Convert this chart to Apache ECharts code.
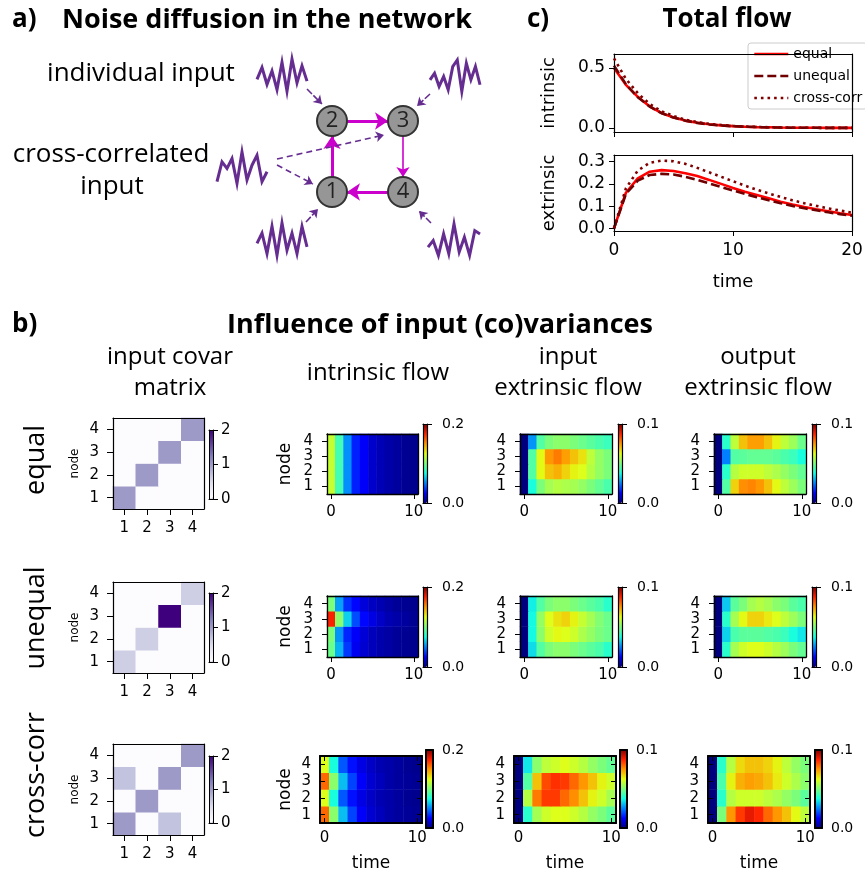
<!DOCTYPE html>
<html><head><meta charset="utf-8">
<script src="https://cdn.jsdelivr.net/npm/echarts@6/dist/echarts.min.js"></script>
<style>html,body{margin:0;padding:0;background:#fff}#c{width:865px;height:876px}</style>
</head><body><div id="c"></div>
<script>
// ================= DATA =================
const timeSteps = ['0','1','2','3','4','5','6','7','8','9','10'];
const nodeLabels = ['1','2','3','4'];
const lineTime = [0,1,2,3,4,5,6,7,8,9,10,11,12,13,14,15,16,17,18,19,20];

// panel c: total flow
const intrEqual   = [0.50,0.36,0.26,0.18,0.125,0.088,0.062,0.044,0.031,0.022,0.016,0.011,0.008,0.006,0.004,0.003,0.002,0.002,0.001,0.001,0.001];
const intrUnequal = [0.52,0.365,0.257,0.179,0.124,0.087,0.061,0.043,0.030,0.021,0.015,0.011,0.008,0.005,0.004,0.003,0.002,0.002,0.001,0.001,0.001];
const intrCross   = [0.58,0.41,0.29,0.20,0.14,0.10,0.07,0.049,0.035,0.025,0.018,0.013,0.009,0.007,0.005,0.003,0.002,0.002,0.001,0.001,0.001];
const extrEqual   = [0,0.16,0.225,0.255,0.262,0.258,0.248,0.235,0.218,0.200,0.182,0.165,0.150,0.135,0.120,0.107,0.096,0.086,0.077,0.068,0.060];
const extrUnequal = [0,0.155,0.215,0.240,0.245,0.242,0.232,0.218,0.202,0.186,0.170,0.155,0.140,0.126,0.113,0.101,0.090,0.081,0.072,0.064,0.057];
const extrCross   = [0,0.18,0.26,0.295,0.305,0.302,0.290,0.272,0.252,0.232,0.212,0.192,0.174,0.157,0.141,0.126,0.113,0.101,0.090,0.080,0.070];

// input covariance matrices [row = node on y][col = node on x]
const covEqual   = [[1,0,0,0],[0,1,0,0],[0,0,1,0],[0,0,0,1]];
const covUnequal = [[0.6,0,0,0],[0,0.6,0,0],[0,0,2,0],[0,0,0,0.6]];
const covCross   = [[1,0,0.7,0],[0,1,0,0],[0.7,0,1,0],[0,0,0,1]];

// flows: [node1..node4][time 0..10]
const eqIntr = [
 [0.118,0.086,0.053,0.031,0.024,0.015,0.011,0.008,0.006,0.004,0.003],
 [0.118,0.086,0.053,0.031,0.024,0.015,0.011,0.008,0.006,0.004,0.003],
 [0.118,0.086,0.053,0.031,0.024,0.015,0.011,0.008,0.006,0.004,0.003],
 [0.118,0.086,0.053,0.031,0.024,0.015,0.011,0.008,0.006,0.004,0.003]];
const eqInExt = [
 [0,0.038,0.050,0.055,0.057,0.056,0.055,0.053,0.050,0.047,0.044],
 [0,0.045,0.063,0.070,0.072,0.068,0.064,0.062,0.057,0.053,0.050],
 [0,0.045,0.063,0.075,0.078,0.074,0.070,0.066,0.058,0.053,0.050],
 [0,0.027,0.045,0.050,0.052,0.052,0.050,0.048,0.046,0.044,0.042]];
const eqOutExt = [
 [0,0.045,0.068,0.076,0.077,0.075,0.070,0.063,0.058,0.054,0.050],
 [0,0.040,0.057,0.060,0.060,0.060,0.058,0.056,0.053,0.050,0.047],
 [0,0.025,0.045,0.046,0.047,0.047,0.047,0.046,0.044,0.042,0.038],
 [0,0.040,0.058,0.070,0.074,0.074,0.070,0.064,0.058,0.054,0.048]];
const uneqIntr = [
 [0.096,0.060,0.036,0.022,0.016,0.012,0.009,0.007,0.005,0.004,0.003],
 [0.100,0.054,0.032,0.024,0.017,0.012,0.009,0.007,0.005,0.004,0.003],
 [0.176,0.104,0.066,0.040,0.026,0.020,0.014,0.010,0.008,0.006,0.004],
 [0.100,0.056,0.034,0.026,0.018,0.013,0.010,0.007,0.005,0.004,0.003]];
const uneqInExt = [
 [0,0.034,0.045,0.050,0.052,0.052,0.050,0.048,0.046,0.044,0.040],
 [0,0.037,0.052,0.060,0.063,0.062,0.060,0.056,0.053,0.050,0.048],
 [0,0.037,0.053,0.062,0.066,0.068,0.064,0.059,0.055,0.051,0.048],
 [0,0.036,0.045,0.050,0.052,0.052,0.050,0.048,0.046,0.044,0.040]];
const uneqOutExt = [
 [0,0.040,0.055,0.060,0.062,0.062,0.060,0.057,0.054,0.050,0.047],
 [0,0.033,0.044,0.046,0.046,0.046,0.045,0.044,0.042,0.038,0.035],
 [0,0.040,0.055,0.063,0.068,0.068,0.065,0.062,0.058,0.054,0.050],
 [0,0.032,0.046,0.050,0.055,0.057,0.055,0.052,0.050,0.046,0.044]];
const ccIntr = [
 [0.160,0.104,0.062,0.038,0.024,0.016,0.012,0.008,0.006,0.005,0.004],
 [0.124,0.076,0.042,0.028,0.020,0.014,0.010,0.008,0.006,0.004,0.003],
 [0.160,0.104,0.062,0.038,0.024,0.016,0.012,0.008,0.006,0.005,0.004],
 [0.124,0.076,0.042,0.028,0.020,0.014,0.010,0.008,0.006,0.004,0.003]];
const ccInExt = [
 [0,0.040,0.055,0.060,0.062,0.062,0.060,0.057,0.053,0.050,0.046],
 [0,0.057,0.078,0.085,0.085,0.080,0.076,0.070,0.064,0.060,0.055],
 [0,0.045,0.070,0.083,0.086,0.085,0.080,0.075,0.070,0.064,0.060],
 [0,0.035,0.052,0.058,0.060,0.062,0.060,0.057,0.053,0.050,0.047]];
const ccOutExt = [
 [0,0.050,0.075,0.085,0.090,0.087,0.080,0.075,0.070,0.063,0.058],
 [0,0.040,0.057,0.060,0.060,0.060,0.058,0.056,0.053,0.050,0.046],
 [0,0.044,0.064,0.072,0.074,0.073,0.070,0.065,0.060,0.056,0.052],
 [0,0.040,0.057,0.067,0.070,0.070,0.068,0.064,0.058,0.053,0.050]];

const rowNames = ['equal','unequal','cross-corr'];
const seriesNames = ['equal','unequal','cross-corr'];
const intrMax = 0.2, extMax = 0.1, covMax = 2;

// network diagram (illustration)
const netNodes = [
 {name:'1', pos:[332,192]}, {name:'2', pos:[332,121]},
 {name:'3', pos:[403,121]}, {name:'4', pos:[403,192]}];
const netEdges = [['2','3',3,13],['3','4',1.6,10],['4','1',3,13],['1','2',3,13]];
const inputArrows = [
 [[307,89],[322,104],'solid'],[[430,94],[417,106],'solid'],
 [[306,222],[318,209],'solid'],[[431,223],[419,211],'solid'],
 [[277,159],[384,135],'dashed'],[[277,165],[313,184],'dashed']];
const noiseShapes = [
 {box:[257,59,50,34], v:[0.6,0.25,0.75,0.35,0.9,0.1,0.95,0.0,0.7,0.2,0.65]},
 {box:[430,60,50,33], v:[0.6,0.4,0.8,0.5,0.9,0.2,0.0,0.95,0.1,0.6,0.2,0.75]},
 {box:[217,152,50,33], v:[0.9,0.3,0.5,0.2,0.95,0.0,0.85,0.4,0.1,0.9,0.6]},
 {box:[257,223,50,34], v:[0.6,0.3,0.9,0.1,0.95,0.0,0.8,0.3,0.9,0.1,0.7]},
 {box:[428,224,52,33], v:[0.7,0.5,0.95,0.3,0.9,0.0,0.85,0.4,0.95,0.2,0.3]}];

// ================= BUILD =================
const JET = ['#00007f','#0000ff','#0080ff','#15ffe2','#7bff7b','#e2ff15','#ff9700','#ff2100','#800000'];
const PURPLES = ['#fcfbfd','#efedf5','#dadaeb','#bcbddc','#9e9ac8','#807dba','#6a51a3','#54278f','#3f007d'];
const FONT = 'DejaVu Sans';
const grids=[], xAxes=[], yAxes=[], series=[], visualMaps=[];

function addGrid(r){ grids.push({left:r[0],top:r[1],width:r[2],height:r[3],containLabel:false,outerBoundsMode:'none'}); return grids.length-1; }
function cells(mat){ const out=[]; mat.forEach((row,yi)=>row.forEach((v,xi)=>out.push([xi,yi,v]))); return out; }
const lineBlack = w => ({show:true,onZero:false,lineStyle:{color:'#000',width:w}});

const g0 = addGrid([0,0,865,876]);
xAxes.push({gridIndex:g0,type:'value',min:0,max:865,show:false});
yAxes.push({gridIndex:g0,type:'value',min:0,max:876,inverse:true,show:false});

noiseShapes.forEach(s=>{
  const [x0,y0,w,h]=s.box, n=s.v.length;
  series.push({type:'line',xAxisIndex:0,yAxisIndex:0,symbol:'none',silent:true,
    lineStyle:{color:'#662d91',width:3,join:'miter'},
    data:s.v.map((v,i)=>[x0+i*w/(n-1), y0+v*h])});
});
const gNodes = netNodes.map(n=>({name:n.name,value:n.pos,symbolSize:30,
   itemStyle:{color:'#969696',borderColor:'#333',borderWidth:2},
   label:{show:true,position:'inside',formatter:'{b}',fontSize:22,color:'#222',fontFamily:'"Open Sans"'}}));
const gLinks = netEdges.map(e=>({source:e[0],target:e[1],symbol:['none','arrow'],symbolSize:[1,e[3]],
   lineStyle:{color:'#cc00cc',width:e[2],opacity:1,curveness:0}}));
inputArrows.forEach((a,i)=>{
  gNodes.push({name:'s'+i,value:a[0],symbolSize:0.1,itemStyle:{opacity:0},label:{show:false}});
  gNodes.push({name:'e'+i,value:a[1],symbolSize:0.1,itemStyle:{opacity:0},label:{show:false}});
  gLinks.push({source:'s'+i,target:'e'+i,symbol:['none','arrow'],symbolSize:[1,8],
    lineStyle:{color:'#662d91',width:1.6,opacity:1,type:a[2]==='dashed'?[6,4]:[7,2]}});
});
series.push({type:'graph',coordinateSystem:'cartesian2d',xAxisIndex:0,yAxisIndex:0,layout:'none',
  silent:true,data:gNodes,links:gLinks,z:3});

function lineGrid(rect, ymin, ymax, yTicks, yName, showX){
  const gi=addGrid(rect);
  const xi=xAxes.length;
  xAxes.push({gridIndex:gi,type:'value',min:0,max:20,interval:10,position:'bottom',z:5,
    axisLine:lineBlack(1.2),axisTick:{show:true,length:5,lineStyle:{color:'#000'}},
    axisLabel:{show:showX,fontSize:17,color:'#000',fontFamily:FONT,margin:11},splitLine:{show:false},
    name:showX?'time':'',nameLocation:'middle',nameGap:42,nameTextStyle:{fontSize:18,fontFamily:FONT,color:'#000'}});
  xAxes.push({gridIndex:gi,type:'value',min:0,max:20,position:'top',z:5,axisLine:lineBlack(1.2),
    axisTick:{show:false},axisLabel:{show:false},splitLine:{show:false}});
  const yi=yAxes.length;
  yAxes.push({gridIndex:gi,type:'value',min:ymin,max:ymax,position:'left',z:5,
    axisLine:lineBlack(1.2),axisTick:{show:true,length:5,customValues:yTicks,lineStyle:{color:'#000'}},
    axisLabel:{customValues:yTicks,fontSize:17,color:'#000',fontFamily:FONT,margin:9,formatter:v=>v.toFixed(1)},
    splitLine:{show:false},name:yName,nameLocation:'middle',nameGap:56,nameRotate:90,
    nameTextStyle:{fontSize:18,fontFamily:FONT,color:'#000'}});
  yAxes.push({gridIndex:gi,type:'value',min:ymin,max:ymax,position:'right',z:5,axisLine:lineBlack(1.2),
    axisTick:{show:false},axisLabel:{show:false},splitLine:{show:false}});
  return {xi,yi};
}
const topAx = lineGrid([614,54,238,78],-0.033,0.617,[0,0.5],'intrinsic',false);
const botAx = lineGrid([614,155,238,76],-0.012,0.33,[0,0.1,0.2,0.3],'extrinsic',true);
const lineStyles = {
  'equal':{color:'#ff0000',width:2.6,type:'solid'},
  'unequal':{color:'#700000',width:2.6,type:[9,4]},
  'cross-corr':{color:'#800000',width:2.6,type:[2.6,4]}};
[[topAx,[intrEqual,intrUnequal,intrCross]],[botAx,[extrEqual,extrUnequal,extrCross]]].forEach(([ax,arrs])=>{
  seriesNames.forEach((nm,k)=>{
    series.push({type:'line',name:nm,xAxisIndex:ax.xi,yAxisIndex:ax.yi,symbol:'none',
      lineStyle:lineStyles[nm],itemStyle:{color:lineStyles[nm].color},z:3+k,
      data:lineTime.map((t,i)=>[t,arrs[k][i]])});
  });
});

function catPanel(rect, xData, yData, o){
  const gi=addGrid(rect);
  const inside=o.old;
  const xi=xAxes.length;
  xAxes.push({gridIndex:gi,type:'category',data:xData,position:'bottom',z:5,
    axisLine:lineBlack(o.lw),axisTick:{show:true,inside:inside,length:o.tick,alignWithLabel:true,interval:o.xInt,lineStyle:{color:'#000',width:1}},
    axisLabel:{interval:o.xInt,margin:o.xm,fontSize:o.fs,color:'#000',fontFamily:FONT},splitLine:{show:false},
    name:o.xName||'',nameLocation:'middle',nameGap:o.xGap||30,nameTextStyle:{fontSize:o.nfs,fontFamily:FONT,color:'#000'}});
  xAxes.push({gridIndex:gi,type:'category',data:xData,position:'top',z:5,axisLine:lineBlack(o.lw),
    axisTick:{show:inside,inside:true,length:o.tick,alignWithLabel:true,interval:o.xInt,lineStyle:{color:'#000'}},
    axisLabel:{show:false},splitLine:{show:false}});
  const yi=yAxes.length;
  yAxes.push({gridIndex:gi,type:'category',data:yData,position:'left',z:5,
    axisLine:lineBlack(o.lw),axisTick:{show:true,inside:inside,length:o.tick,alignWithLabel:true,interval:0,lineStyle:{color:'#000',width:1}},
    axisLabel:{interval:0,margin:o.ym,fontSize:o.fs,color:'#000',fontFamily:FONT},splitLine:{show:false},
    name:o.yName||'',nameLocation:'middle',nameGap:o.yGap||30,nameRotate:90,nameTextStyle:{fontSize:o.nfs,fontFamily:FONT,color:'#000'}});
  yAxes.push({gridIndex:gi,type:'category',data:yData,position:'right',z:5,axisLine:lineBlack(o.lw),
    axisTick:{show:inside,inside:true,length:o.tick,alignWithLabel:true,interval:0,lineStyle:{color:'#000'}},
    axisLabel:{show:false},splitLine:{show:false}});
  return {xi,yi};
}
function colorbar(rect, max, interval, colors, o){
  const gi=addGrid(rect);
  xAxes.push({gridIndex:gi,type:'value',min:0,max:1,position:'bottom',z:6,axisLine:lineBlack(o.lw),axisTick:{show:false},axisLabel:{show:false},splitLine:{show:false}});
  xAxes.push({gridIndex:gi,type:'value',min:0,max:1,position:'top',z:6,axisLine:lineBlack(o.lw),axisTick:{show:false},axisLabel:{show:false},splitLine:{show:false}});
  yAxes.push({gridIndex:gi,type:'value',min:0,max:max,interval:interval,position:'left',z:6,axisLine:lineBlack(o.lw),axisTick:{show:false},axisLabel:{show:false},splitLine:{show:false}});
  yAxes.push({gridIndex:gi,type:'value',min:0,max:max,interval:interval,position:'right',z:6,axisLine:lineBlack(o.lw),
    axisTick:{show:!o.old,length:o.tick,lineStyle:{color:'#000'}},
    axisLabel:{margin:o.m,fontSize:o.fs,color:'#000',fontFamily:FONT,formatter:v=>o.dec?v.toFixed(1):String(Math.round(v))},splitLine:{show:false}});
  return {left:rect[0],top:rect[1],itemWidth:rect[2],itemHeight:rect[3],colors};
}
function addHeat(ax, mat, max, cb){
  const si=series.length;
  series.push({type:'heatmap',xAxisIndex:ax.xi,yAxisIndex:ax.yi,data:cells(mat),silent:true,
    itemStyle:{borderWidth:0},emphasis:{disabled:true},progressive:0});
  visualMaps.push({type:'continuous',seriesIndex:si,min:0,max:max,calculable:false,hoverLink:false,
    left:cb.left,top:cb.top,itemWidth:cb.itemWidth,itemHeight:cb.itemHeight,padding:0,
    inRange:{color:cb.colors},outOfRange:{color:[cb.colors[cb.colors.length-1]]}});
}

const layout = [
 {mat:[113,418,91,91], matcb:[209,430,4,69],
  hm:[[327,434,91,60],[520,434,92,60],[714,434,92,60]], cb:[[423,424,4,79],[618,424,4,79],[812,424,4,79]], old:false},
 {mat:[113,582,91,91], matcb:[209,593,4,69],
  hm:[[327,596,91,61],[520,596,92,61],[714,596,92,61]], cb:[[423,587,4,80],[618,587,4,80],[812,587,4,80]], old:false},
 {mat:[113,744,91,91], matcb:[209,756,4,67],
  hm:[[320,756,102,67],[514,756,102,67],[708,756,102,67]], cb:[[426,750,7,78],[620,750,7,78],[815,750,7,78]], old:true}];
const covs=[covEqual,covUnequal,covCross];
const flows=[[eqIntr,eqInExt,eqOutExt],[uneqIntr,uneqInExt,uneqOutExt],[ccIntr,ccInExt,ccOutExt]];

layout.forEach((L,r)=>{
  const ma=catPanel(L.mat,nodeLabels,nodeLabels,{old:false,lw:1.2,tick:6,xInt:0,xm:12,ym:14,fs:15,nfs:12,yName:'node',yGap:32});
  const mcb=colorbar(L.matcb,covMax,1,PURPLES,{lw:1,tick:5,m:8,fs:15,dec:false,old:false});
  addHeat(ma,covs[r],covMax,mcb);
  L.hm.forEach((rect,c)=>{
    const o = L.old
      ? {old:true,lw:2,tick:5,xInt:9,xm:8,ym:9,fs:15,nfs:17,xName:'time',xGap:32}
      : {old:false,lw:1.3,tick:5,xInt:9,xm:11,ym:14,fs:15,nfs:17};
    if(c===0){ o.yName='node'; o.yGap = L.old?26:33; }
    const ax=catPanel(rect,timeSteps,nodeLabels,o);
    const max = c===0?intrMax:extMax;
    const cb=colorbar(L.cb[c],max,max,JET,{lw:L.old?2:1.2,tick:5,m:L.old?9:15,fs:14,dec:true,old:L.old});
    addHeat(ax,flows[r][c],max,cb);
  });
});

const txt=(t,x,y,size,o={})=>({type:'text',x:x,y:y,rotation:o.rot||0,silent:true,
  style:{text:t,fill:'#000',font:(o.bold?'bold ':'')+size+'px "Open Sans"',align:o.align||'center',verticalAlign:'middle'}});
const graphic=[
  txt('a)',12,20,26,{bold:true,align:'left'}),
  txt('Noise diffusion in the network',62,20,27,{bold:true,align:'left'}),
  txt('individual input',141,74,26),
  txt('cross-correlated',111,155,26),
  txt('input',112,187,26),
  txt('c)',527,20,26,{bold:true,align:'left'}),
  txt('Total flow',727,20,26,{bold:true}),
  txt('b)',12,325,26,{bold:true,align:'left'}),
  txt('Influence of input (co)variances',440,325,27,{bold:true}),
  txt('input covar',170,357,24),
  txt('matrix',170,388,24),
  txt('intrinsic flow',378,373,24),
  txt('input',568,357,24),
  txt('extrinsic flow',568,388,24),
  txt('output',758,357,24),
  txt('extrinsic flow',758,388,24),
  txt(rowNames[0],36,460,27,{rot:Math.PI/2}),
  txt(rowNames[1],36,618,27,{rot:Math.PI/2}),
  txt(rowNames[2],36,775,27,{rot:Math.PI/2})
];

const chart=echarts.init(document.getElementById('c'),null,{renderer:'canvas',width:865,height:876});
chart.setOption({
  animation:false,
  backgroundColor:'#fff',
  grid:grids, xAxis:xAxes, yAxis:yAxes, series:series, visualMap:visualMaps,
  legend:{show:true,orient:'vertical',left:748,top:43,
    data:seriesNames.map(nm=>({name:nm,itemStyle:{opacity:0},
      lineStyle:{color:lineStyles[nm].color,width:lineStyles[nm].width,type:lineStyles[nm].type,opacity:1}})),
    padding:[4,5,4,5],itemGap:8,itemWidth:34,itemHeight:14,backgroundColor:'#fff',
    borderColor:'#cccccc',borderWidth:1,borderRadius:3,selectedMode:false,
    textStyle:{fontSize:14,fontFamily:FONT,color:'#000'}},
  graphic:graphic
});
</script></body></html>
